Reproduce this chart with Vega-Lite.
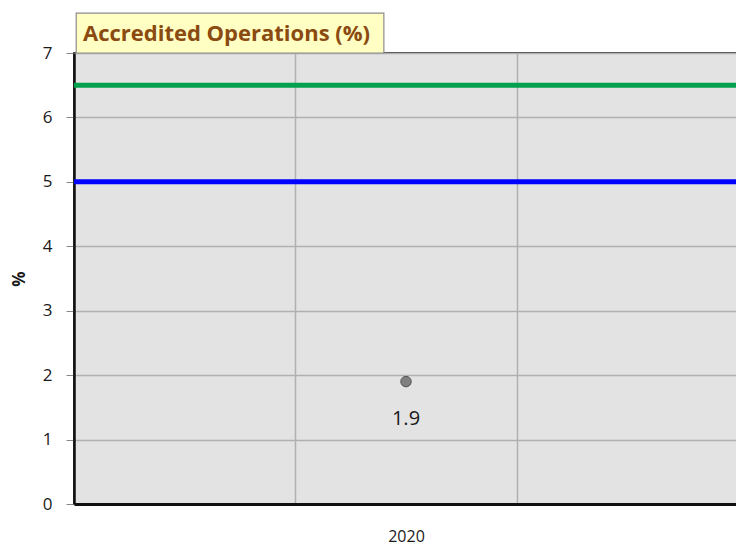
{
  "$schema": "https://vega.github.io/schema/vega-lite/v6.json",
  "autosize": "none",
  "width": 664,
  "height": 451,
  "padding": {"left": 74, "top": 53, "right": 0, "bottom": 43},
  "background": "white",
  "title": {
    "text": "Accredited Operations (%)",
    "anchor": "start",
    "frame": "group",
    "dx": 9,
    "dy": 36,
    "offset": -20,
    "baseline": "bottom",
    "font": "Open Sans",
    "fontSize": 22,
    "fontWeight": "bold",
    "color": "#8a4a10"
  },
  "config": {
    "view": {"fill": "#e3e3e3", "stroke": "#444444", "strokeWidth": 2},
    "axis": {"labelFont": "Open Sans", "titleFont": "Open Sans", "labelColor": "#1a1a1a", "titleColor": "#1a1a1a"}
  },
  "datasets": {
    "obs": [{"year": 2020, "value": 1.9}],
    "refs": [{"series": "Upper", "value": 6.5}, {"series": "Lower", "value": 5}]
  },
  "layer": [
    {
      "data": {"values": [{}]},
      "mark": {"type": "rect", "fill": "#ffffc4", "stroke": "#8c8c8c", "strokeWidth": 1.2, "clip": false},
      "encoding": {
        "x": {"datum": 2018.51, "type": "quantitative"},
        "x2": {"datum": 2019.9},
        "y": {"datum": 7, "type": "quantitative"},
        "y2": {"datum": 7.62}
      }
    },
    {
      "data": {"name": "refs"},
      "mark": {"type": "rule", "strokeWidth": 5},
      "encoding": {
        "y": {"field": "value", "type": "quantitative"},
        "color": {"field": "series", "type": "nominal", "scale": {"domain": ["Upper", "Lower"], "range": ["#00a04c", "#0000ff"]}, "legend": null}
      }
    },
    {
      "data": {"name": "obs"},
      "mark": {"type": "point", "filled": true, "fill": "#808080", "stroke": "#555555", "strokeWidth": 1, "size": 110, "opacity": 1},
      "encoding": {
        "x": {
          "field": "year", "type": "quantitative",
          "scale": {"domain": [2018.5, 2021.5], "nice": false, "zero": false},
          "axis": {
            "title": null,
            "values": [2019.5, 2020, 2020.5],
            "labelExpr": "datum.value == 2020 ? '2020' : ''",
            "labelFontSize": 16,
            "labelPadding": 24,
            "ticks": false,
            "grid": true,
            "gridColor": "#b0b0b0",
            "gridWidth": 1.5,
            "gridOpacity": {"condition": {"test": "datum.value == 2020", "value": 0}, "value": 1},
            "domainColor": "#111111",
            "domainWidth": 3
          }
        },
        "y": {
          "field": "value", "type": "quantitative",
          "scale": {"domain": [0, 7], "nice": false},
          "axis": {
            "title": "%",
            "titleFontSize": 17,
            "titleFontWeight": "bold",
            "titlePadding": 14,
            "values": [0, 1, 2, 3, 4, 5, 6, 7],
            "format": "d",
            "labelFontSize": 17,
            "labelPadding": 14,
            "tickSize": 8,
            "tickColor": "#888888",
            "grid": true,
            "gridColor": "#b0b0b0",
            "gridWidth": 1.5,
            "domainColor": "#111111",
            "domainWidth": 2.5
          }
        }
      }
    },
    {
      "data": {"name": "obs"},
      "mark": {"type": "text", "dy": 37, "font": "Open Sans", "fontSize": 20, "color": "#1a1a1a"},
      "encoding": {
        "x": {"field": "year", "type": "quantitative"},
        "y": {"field": "value", "type": "quantitative"},
        "text": {"field": "value", "type": "quantitative", "format": ".1f"}
      }
    }
  ]
}
